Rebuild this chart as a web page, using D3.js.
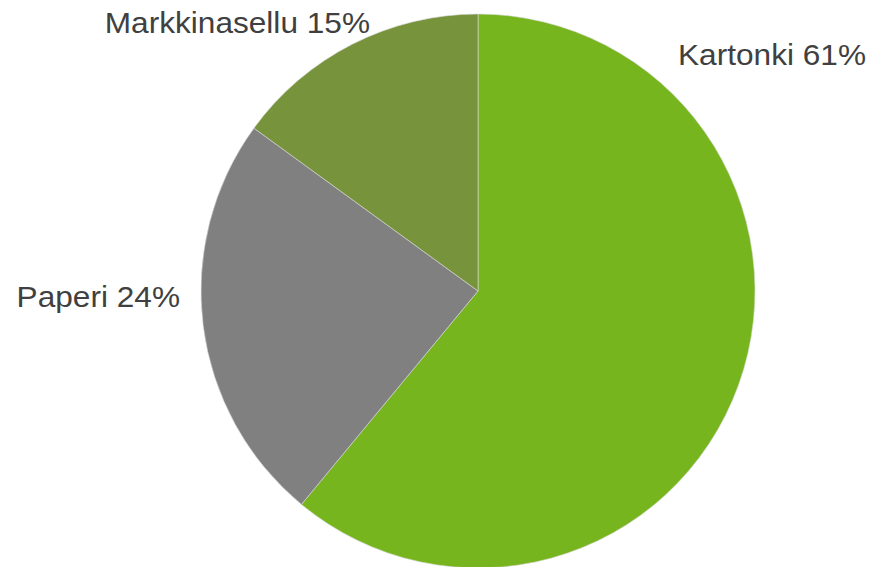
<!DOCTYPE html>
<html>
    <head>
        <meta charset="utf-8">
        <style type="text/css">
            body {
                margin: 0;
                background: #fff;
            }
            svg {
                display: block;
            }
            .label {
                font-family: "Liberation Sans", Arial, sans-serif;
                font-size: 29px;
                fill: #404040;
            }
            .slice {
                stroke: #d9d9d9;
                stroke-width: 0.6;
            }
        </style>
        <script src="https://d3js.org/d3.v7.min.js"></script>
    </head>
    <body>
        <svg width="872" height="567"></svg>
        <script>
            // Data
            let categories = ["Kartonki", "Paperi", "Markkinasellu"];
            let shares     = [61, 24, 15];
            let colors     = ["#77b51e", "#808080", "#77933c"];

            // Where Excel put each label (right end of baseline)
            let labelLayout = [
                {x: 866, y: 65},
                {x: 180, y: 307},
                {x: 370, y: 33}
            ];
            let stretch = 1.09; // the original text is a bit wider than Arial

            let cx = 478, cy = 291, radius = 277;

            let svg = d3.select("svg");
            let g = svg.append("g")
                .attr("transform", "translate(" + cx + "," + cy + ")");

            let pie = d3.pie()
                .sort(null)
                .value(d => d);
            let arc = d3.arc()
                .innerRadius(0)
                .outerRadius(radius);

            g.selectAll("path")
                .data(pie(shares))
                .enter().append("path")
                    .attr("class", "slice")
                    .attr("fill", (d, i) => colors[i])
                    .attr("d", arc);

            svg.selectAll("text.label")
                .data(categories)
                .enter().append("text")
                    .attr("class", "label")
                    .attr("text-anchor", "end")
                    .attr("transform", (d, i) => "translate(" + labelLayout[i].x + "," + labelLayout[i].y + ") scale(" + stretch + ",1)")
                    .text((d, i) => d + " " + shares[i] + "%");
        </script>
    </body>
</html>
